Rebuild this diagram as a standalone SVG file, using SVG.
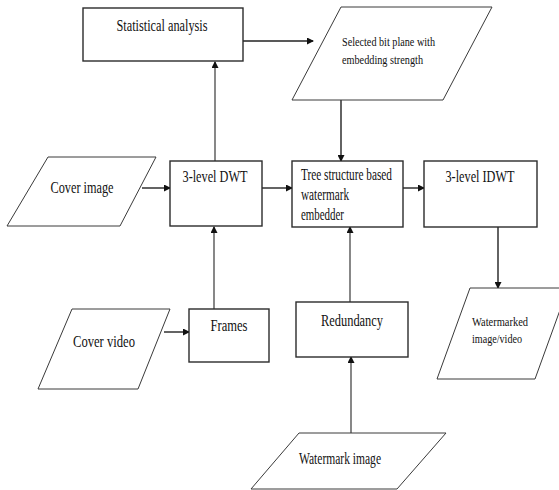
<svg xmlns="http://www.w3.org/2000/svg" width="559" height="490" viewBox="0 0 559 490">
<style>
.box{fill:#fff;stroke:#2b2b2b;stroke-width:1.4}
.io{fill:#fff;stroke:#3a3a3a;stroke-width:1}
.t{font-family:"Liberation Serif","Times New Roman",serif;font-size:16px;fill:#111}
.s{font-size:13px}
.c{fill:none;stroke:#222;stroke-width:1.4}
.g{stroke:#6a6a6a;stroke-width:1.6}
</style>
<defs>
<marker id="ah" markerWidth="7" markerHeight="7" refX="6" refY="3.5" orient="auto" markerUnits="userSpaceOnUse">
<path d="M0,0 L7,3.5 L0,7 z" fill="#111"/>
</marker>
</defs>
<rect width="559" height="490" fill="#fff"/>

<g id="connectors">
<path class="c g" d="M215,161 V62" marker-end="url(#ah)"/>
<path class="c" d="M243,41 H313" stroke-width="2" marker-end="url(#ah)"/>
<path class="c" d="M341,100 V161" stroke-width="1" marker-end="url(#ah)"/>
<path class="c" d="M142,188 H170" marker-end="url(#ah)"/>
<path class="c" d="M262,188 H292" marker-end="url(#ah)"/>
<path class="c" d="M403,188 H424" marker-end="url(#ah)"/>
<path class="c" d="M498,227 V288" marker-end="url(#ah)"/>
<path class="c" d="M164,332 H189" stroke-width="1.8" marker-end="url(#ah)"/>
<path class="c g" d="M214,309 V227" marker-end="url(#ah)"/>
<path class="c g" d="M350,302 V227" marker-end="url(#ah)"/>
<path class="c g" d="M351,433 V357" marker-end="url(#ah)"/>
</g>

<g id="statistical-analysis">
<rect class="box" x="83" y="8" width="160" height="53"/>
<text class="t" x="162" y="31" text-anchor="middle" textLength="91" lengthAdjust="spacingAndGlyphs">Statistical analysis</text>
</g>

<g id="selected-bit-plane">
<polygon class="io" points="341,7 492,7 443,100 292,100"/>
<text class="t s" x="342" y="46" textLength="93" lengthAdjust="spacingAndGlyphs">Selected bit plane with</text>
<text class="t s" x="342" y="64" textLength="81" lengthAdjust="spacingAndGlyphs">embedding strength</text>
</g>

<g id="cover-image">
<polygon class="io" points="48,157 156,157 120,226 7,226"/>
<text class="t" x="82" y="193" text-anchor="middle" textLength="63" lengthAdjust="spacingAndGlyphs">Cover image</text>
</g>

<g id="dwt">
<rect class="box" x="170" y="161" width="92" height="65"/>
<text class="t" x="215" y="182" text-anchor="middle" textLength="65" lengthAdjust="spacingAndGlyphs">3-level DWT</text>
</g>

<g id="tree-embedder">
<rect class="box" x="292" y="161" width="111" height="66"/>
<text class="t" x="301" y="180" textLength="91" lengthAdjust="spacingAndGlyphs">Tree structure based</text>
<text class="t" x="301" y="200" textLength="48" lengthAdjust="spacingAndGlyphs">watermark</text>
<text class="t" x="301" y="220" textLength="43" lengthAdjust="spacingAndGlyphs">embedder</text>
</g>

<g id="idwt">
<rect class="box" x="424" y="161" width="113" height="66"/>
<text class="t" x="480" y="182" text-anchor="middle" textLength="69" lengthAdjust="spacingAndGlyphs">3-level IDWT</text>
</g>

<g id="cover-video">
<polygon class="io" points="72,309 170,309 138,389 38,389"/>
<text class="t" x="104" y="347" text-anchor="middle" textLength="62" lengthAdjust="spacingAndGlyphs">Cover video</text>
</g>

<g id="frames">
<rect class="box" x="189" y="309" width="80" height="53"/>
<text class="t" x="229" y="331" text-anchor="middle" textLength="37" lengthAdjust="spacingAndGlyphs">Frames</text>
</g>

<g id="redundancy">
<rect class="box" x="296" y="302" width="112" height="55"/>
<text class="t" x="352" y="326" text-anchor="middle" textLength="62" lengthAdjust="spacingAndGlyphs">Redundancy</text>
</g>

<g id="watermarked-output">
<polygon class="io" points="470,288 568,288 535,379 437,379"/>
<text class="t s" x="472" y="326" textLength="56" lengthAdjust="spacingAndGlyphs">Watermarked</text>
<text class="t s" x="472" y="343" textLength="50" lengthAdjust="spacingAndGlyphs">image/video</text>
</g>

<g id="watermark-image">
<polygon class="io" points="299,433 446,433 397,489 251,489"/>
<text class="t" x="340" y="464" text-anchor="middle" textLength="82" lengthAdjust="spacingAndGlyphs">Watermark image</text>
</g>
</svg>
